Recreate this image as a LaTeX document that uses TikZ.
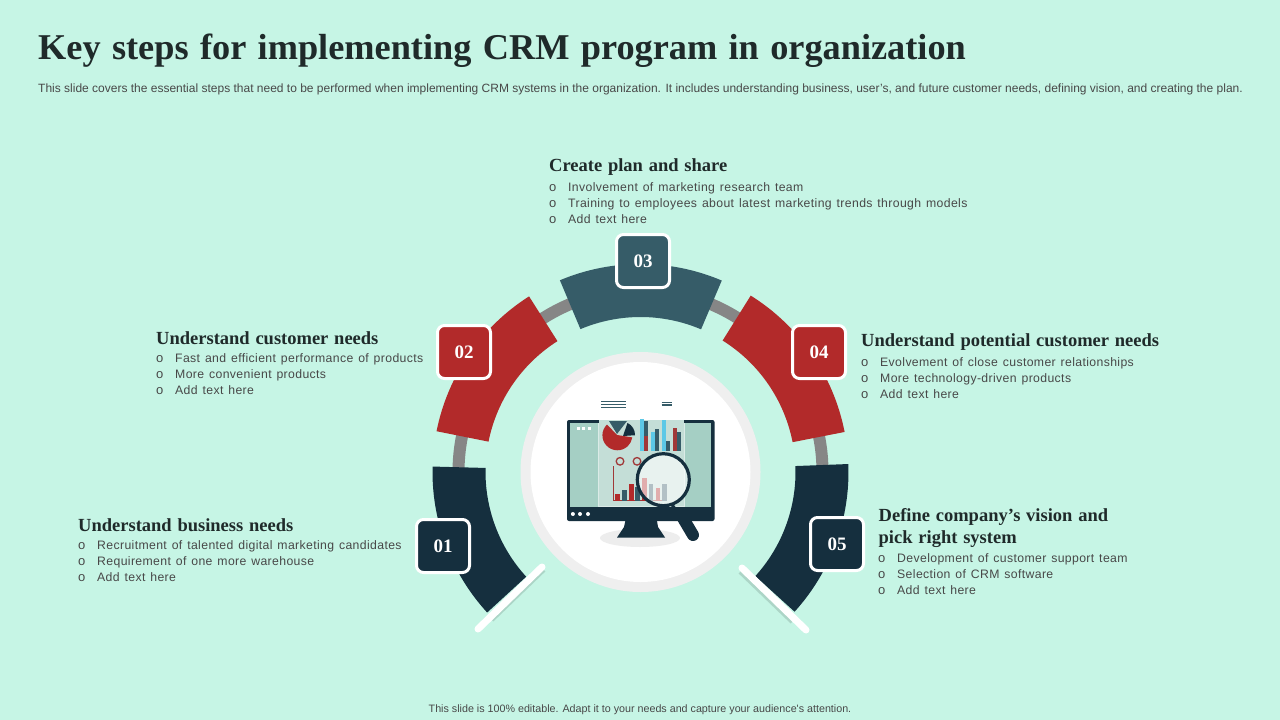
\documentclass[tikz,border=0pt]{standalone}
\usepackage{fontspec}
\setmainfont{Liberation Serif}
\newfontfamily\bodyfont{Liberation Sans}
\newfontfamily\bulletfont[LetterSpace=3,WordSpace=1.3]{Liberation Sans}
\newfontfamily\titlefont[WordSpace=2.2]{Liberation Serif}
\newfontfamily\headfont[WordSpace=1.25]{Liberation Serif}
\usetikzlibrary{calc}
\definecolor{bgc}{HTML}{C6F5E5}
\definecolor{redc}{HTML}{B22A2A}
\definecolor{darkc}{HTML}{152F3E}
\definecolor{tealc}{HTML}{365C68}
\definecolor{grayc}{HTML}{868686}
\definecolor{txt}{HTML}{484848}
\definecolor{head}{HTML}{1F2A2A}
\definecolor{screen}{HTML}{A5CFC4}
\definecolor{panel}{HTML}{C4DED7}
\definecolor{cyanc}{HTML}{5CC8E6}
\definecolor{ringc}{HTML}{EFEFEF}
\definecolor{bardk}{HTML}{A03838}
\tikzset{
 x=1pt,y=-1pt,
 numbox/.style={draw=white,line width=3pt,rounded corners=7pt,minimum size=53pt,inner sep=0pt,text=white,font=\fontsize{19}{19}\selectfont\bfseries},
 headline/.style={anchor=west,inner sep=0pt,text=head,align=left,font=\headfont\fontsize{18.5}{22}\selectfont\bfseries},
 bullets/.style={anchor=north west,inner sep=0pt,text=txt,align=left,font=\bulletfont\fontsize{12.25}{16}\selectfont},
 endbar/.style={draw=white,line width=7pt,line cap=round},
 barshadow/.style={draw=black!13!bgc,line width=4pt},
}
\newcommand{\bl}[1]{\makebox[19pt][l]{\bodyfont\fontsize{13}{16}\selectfont o}#1}
\newcommand{\seg}[3]{\fill[#1] ($(cc)+(#2:208)$) arc[start angle=#2,end angle=#3,radius=208] -- ($(cc)+(#3:155)$) arc[start angle=#3,end angle=#2,radius=155] -- cycle;}
\newcommand{\vbar}[5]{\fill[#1] (#2,#3) rectangle (#4,#5);}
\begin{document}
\begin{tikzpicture}
\useasboundingbox (0,0) rectangle (1280,720);
\fill[bgc] (0,0) rectangle (1280,720);
\coordinate (cc) at (640.5,472);
% gray ring
\draw[grayc,line width=12pt] ($(cc)+(181:182)$) arc[start angle=181,end angle=359,radius=182];
% ring segments
\seg{darkc}{137.5}{181.5}
\seg{redc}{191.3}{237.6}
\seg{tealc}{247.2}{293}
\seg{redc}{302}{348.9}
\seg{darkc}{357.8}{402.2}
% end bars
\draw[barshadow] (492,620) -- (544,570);
\draw[barshadow] (740,572) -- (792,622);
\draw[endbar] (478,629) -- (542,567);
\draw[endbar] (742,568) -- (806,630);
% centre disc
\fill[ringc] (cc) circle[radius=120];
\fill[white] (cc) circle[radius=110];
% monitor
\fill[black!7!white] (640,538) ellipse[x radius=40,y radius=9];
\fill[darkc] (626,518) -- (656.5,518) -- (658,527) -- (665,537.5) -- (617,537.5) -- (624,527) -- cycle;
\fill[darkc,rounded corners=2pt] (567,420) rectangle (714.5,521);
\fill[screen] (570,423) rectangle (711,507);
\fill[panel] (598.5,420) rectangle (684,506);
\draw[white,opacity=.6,line width=.6pt] (598.5,423) -- (598.5,506) -- (684,506) -- (684,423);
\foreach \px in {576.7,582.3,588.3} \fill[white] (\px,426.8) rectangle +(2.8,2.8);
\foreach \px in {572.9,580,588} \fill[white] (\px,514) circle[radius=2];
% little lines
\foreach \py in {401.7,404.2,407} \draw[tealc,line width=.7pt] (601,\py) -- (625.7,\py);
\foreach \py in {402.2,404.8} \draw[tealc,line width=1.4pt] (661.7,\py) -- (671.7,\py);
% pie
\fill[redc] (617,435) -- (607,424.5) arc[start angle=226,end angle=8,radius=15] -- cycle;
\fill[tealc] (617,434) -- (609,421) -- (627,421) -- cycle;
\fill[darkc] (623,436) -- (627.5,423) arc[start angle=-65,end angle=2,radius=13] -- cycle;
% upper bars
\vbar{cyanc}{640}{419}{644}{451}
\vbar{tealc}{644}{421}{648}{436}
\vbar{bardk}{644}{436}{648}{451}
\vbar{cyanc}{651.3}{432}{655}{451}
\vbar{tealc}{655}{429}{658.7}{451}
\vbar{cyanc}{662}{420}{666}{451}
\vbar{tealc}{666}{441}{670}{451}
\vbar{bardk}{673}{428}{677}{451}
\vbar{tealc}{677}{432}{681}{451}
% rings
\draw[bardk,line width=1.3pt] (620,461.3) circle[radius=3.8];
\draw[bardk,line width=1.3pt] (637,461.3) circle[radius=3.8];
% lower chart
\draw[bardk,line width=.7pt] (613.3,466) -- (613.3,500.7) -- (667,500.7);
\vbar{redc}{614.7}{494}{620}{500.5}
\vbar{tealc}{622}{490}{627}{500.5}
\vbar{redc}{628.7}{484}{633.7}{500.5}
\vbar{tealc}{635}{486.7}{640}{500.5}
\vbar{redc}{642}{477.7}{647}{500.5}
\vbar{tealc}{649}{484}{653.3}{500.5}
\vbar{redc}{655.7}{488.3}{660}{500.5}
\vbar{tealc}{662}{484}{667}{500.5}
% magnifier
\fill[white,opacity=.62] (663.3,479.7) circle[radius=26];
\draw[darkc,line width=3.2pt] (663.3,479.7) circle[radius=26];
\draw[darkc,line width=3pt] (672,505) -- (677,511);
\draw[darkc,line width=12pt,line cap=round] (680,513) -- (693,535);
% title and description
\node[anchor=base west,inner sep=0pt,text=head,font=\titlefont\fontsize{36.3}{40}\selectfont\bfseries] (title) at (38,59) {Key steps for implementing CRM program in organization};
\node[anchor=base west,inner sep=0pt,text=txt,font=\bodyfont\fontsize{12}{14}\selectfont] (desc) at (38,92.5) {This slide covers the essential steps that need to be performed when implementing CRM systems in the organization. It includes understanding business, user’s, and future customer needs, defining vision, and creating the plan.};
% number boxes
\node[numbox,fill=tealc] (n03) at (643,261) {03};
\node[numbox,fill=redc] (n02) at (464,352) {02};
\node[numbox,fill=redc] (n04) at (819,352) {04};
\node[numbox,fill=darkc] (n01) at (443,546) {01};
\node[numbox,fill=darkc] (n05) at (837,544) {05};
% labels
\node[headline] (h03) at (549,167.5) {Create plan and share};
\node[bullets] (b03) at (549,182) {\bl{Involvement of marketing research team}\\\bl{Training to employees about latest marketing trends through models}\\\bl{Add text here}};
\node[headline] (h02) at (156,338.5) {Understand customer needs};
\node[bullets] (b02) at (156,353) {\bl{Fast and efficient performance of products}\\\bl{More convenient products}\\\bl{Add text here}};
\node[headline] (h04) at (861,342.5) {Understand potential customer needs};
\node[bullets] (b04) at (861,357) {\bl{Evolvement of close customer relationships}\\\bl{More technology-driven products}\\\bl{Add text here}};
\node[headline] (h01) at (78,525.5) {Understand business needs};
\node[bullets] (b01) at (78,540) {\bl{Recruitment of talented digital marketing candidates}\\\bl{Requirement of one more warehouse}\\\bl{Add text here}};
\node[headline] (h05) at (878.5,528.5) {Define company’s vision and\\pick right system};
\node[bullets] (b05) at (878,553) {\bl{Development of customer support team}\\\bl{Selection of CRM software}\\\bl{Add text here}};
% footer
\node[anchor=base,inner sep=0pt,text=txt,font=\bodyfont\fontsize{10.72}{12}\selectfont] (foot) at (640,712) {This slide is 100\% editable. Adapt it to your needs and capture your audience's attention.};
\end{tikzpicture}
\end{document}
